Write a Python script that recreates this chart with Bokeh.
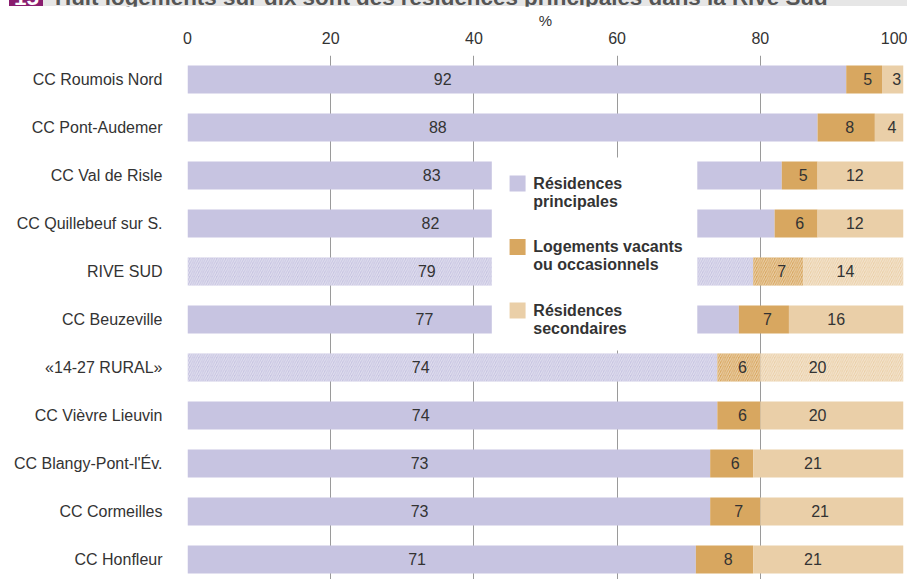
from bokeh.plotting import figure
from bokeh.layouts import column
from bokeh.models import Range1d, FixedTicker, ColumnDataSource, Div
from bokeh.core.properties import value
from bokeh.embed import file_html
from bokeh.resources import INLINE

# Territoires, du haut vers le bas
territoires = [
    "CC Roumois Nord", "CC Pont-Audemer", "CC Val de Risle", "CC Quillebeuf sur S.",
    "RIVE SUD", "CC Beuzeville", "«14-27 RURAL»", "CC Vièvre Lieuvin",
    "CC Blangy-Pont-l'Év.", "CC Cormeilles", "CC Honfleur",
]
# Répartition des logements (%)
principales = [92, 88, 83, 82, 79, 77, 74, 74, 73, 73, 71]
vacants = [5, 8, 5, 6, 7, 7, 6, 6, 6, 7, 8]
secondaires = [3, 4, 12, 12, 14, 16, 20, 20, 21, 21, 21]
# Ensembles de référence (barres hachurées)
ensembles = ["RIVE SUD", "«14-27 RURAL»"]
# Légende (sur deux lignes)
legende = [
    ["Résidences", "principales"],
    ["Logements vacants", "ou occasionnels"],
    ["Résidences", "secondaires"],
]
graduations = [0, 20, 40, 60, 80, 100]
titre = "Huit logements sur dix sont des résidences principales dans la Rive Sud"
numero = "15"

COULEURS = ["#c7c4e1", "#d8a760", "#eacfa8"]
TEXTE = "#333333"
POLICE = "Liberation Sans"
LARGEUR = 907
VIOLET = "#8a1d6f"
GRIS = "#e6e6e6"

# ---------- Bandeau de titre ----------
# Le bandeau fait 24 px, mais le graphique le recouvre sous ses 6 premiers pixels.
H_DIV = 24
H_VISIBLE = 6
span_style = ("position:absolute;top:-13px;line-height:22px;font-weight:bold;"
              f"font-size:22.4px;font-family:'{POLICE}';white-space:nowrap;")
bandeau_html = (
    f'<div style="position:relative;width:{LARGEUR}px;height:{H_DIV}px;'
    f'overflow:hidden;background:white;">'
    f'<div style="position:absolute;left:9px;top:0;width:34px;height:{H_VISIBLE}px;'
    f'background:{VIOLET};"></div>'
    f'<div style="position:absolute;left:43px;top:0;width:{LARGEUR - 43}px;'
    f'height:{H_VISIBLE}px;background:{GRIS};"></div>'
    f'<span style="{span_style}left:14px;color:white;">{numero}</span>'
    f'<span style="{span_style}left:55px;color:#555555;">{titre}</span>'
    f'</div>'
)
entete = Div(text=bandeau_html, width=LARGEUR, height=H_DIV, margin=0,
             styles={"overflow": "hidden"})

# ---------- Graphique ----------
n = len(territoires)
rangs = list(range(n))
fin_p = principales
fin_v = [a + b for a, b in zip(principales, vacants)]
fin_s = [a + b for a, b in zip(fin_v, secondaires)]
hachures = ["/" if t in ensembles else " " for t in territoires]

src = ColumnDataSource(dict(
    y=rangs,
    zero=[0] * n,
    fin_p=fin_p,
    fin_v=fin_v,
    fin_s=fin_s,
    hachure=hachures,
    x_lp=[20 + 0.17 * v for v in principales],
    x_lv=[a + b / 2 + 0.5 for a, b in zip(fin_p, vacants)],
    x_ls=[a + 0.35 * b + 1 for a, b in zip(fin_v, secondaires)],
    t_p=[str(v) for v in principales],
    t_v=[str(v) for v in vacants],
    t_s=[str(v) for v in secondaires],
))

p = figure(
    title=None,
    width=LARGEUR, height=579 - H_VISIBLE,
    x_range=Range1d(0, 100), y_range=Range1d(10.417, -0.5),
    x_axis_location="above",
    output_backend="svg", toolbar_location=None,
    min_border_left=187, min_border_right=4, min_border_top=55 - H_VISIBLE,
    min_border_bottom=0, margin=(H_VISIBLE - H_DIV, 0, 0, 0),
)
p.background_fill_color = "white"
p.border_fill_color = "white"
p.outline_line_color = None

# Axe des pourcentages (en haut)
xa = p.xaxis[0]
xa.ticker = FixedTicker(ticks=graduations)
xa.axis_label = "%"
xa.axis_label_text_font = POLICE
xa.axis_label_text_font_size = "15px"
xa.axis_label_text_font_style = "normal"
xa.axis_label_text_color = TEXTE
xa.axis_label_standoff = 0
xa.major_label_text_font = POLICE
xa.major_label_text_font_size = "16px"
xa.major_label_text_color = TEXTE
xa.major_label_standoff = 12
xa.major_tick_out = 0
xa.major_tick_in = 0
xa.minor_tick_out = 0
xa.minor_tick_in = 0
xa.axis_line_color = None

# Axe des territoires
ya = p.yaxis[0]
ya.ticker = FixedTicker(ticks=rangs)
ya.major_label_overrides = {i: t for i, t in enumerate(territoires)}
ya.major_label_text_font = POLICE
ya.major_label_text_font_size = "16px"
ya.major_label_text_color = TEXTE
ya.major_label_standoff = 25
ya.major_tick_out = 0
ya.major_tick_in = 0
ya.minor_tick_out = 0
ya.minor_tick_in = 0
ya.axis_line_color = None

p.xgrid.ticker = FixedTicker(ticks=graduations)
p.xgrid.grid_line_color = "#9a9a9a"
p.xgrid.grid_line_width = 1
p.ygrid.grid_line_color = None

# Barres empilées
H = 0.58
hatch_kw = dict(hatch_pattern="hachure", hatch_color="white", hatch_alpha=0.5,
                hatch_scale=4.5, hatch_weight=1)
p.hbar(y="y", left="zero", right="fin_p", height=H, source=src,
       fill_color=COULEURS[0], line_color=None, **hatch_kw)
p.hbar(y="y", left="fin_p", right="fin_v", height=H, source=src,
       fill_color=COULEURS[1], line_color=None, **hatch_kw)
p.hbar(y="y", left="fin_v", right="fin_s", height=H, source=src,
       fill_color=COULEURS[2], line_color=None, **hatch_kw)

# Valeurs
txt_kw = dict(text_font=value(POLICE), text_font_size="16px", text_color=TEXTE,
              text_align="center", text_baseline="middle", source=src)
p.text(x="x_lp", y="y", text="t_p", **txt_kw)
p.text(x="x_lv", y="y", text="t_v", **txt_kw)
p.text(x="x_ls", y="y", text="t_s", **txt_kw)

# Légende dans un cadre blanc
p.quad(left=[42.5], right=[71.2], top=[1.625], bottom=[5.646],
       fill_color="white", line_color=None)
pas = 63.5 / 48
y0 = (183 - 55) / 48 - 0.5
ys = [y0 + k * pas for k in range(len(legende))]
p.rect(x=[46.1] * len(legende), y=ys, width=16, height=16,
       width_units="screen", height_units="screen",
       fill_color=COULEURS, line_color=None)
lx, ly, lt = [], [], []
for k, lignes in enumerate(legende):
    for j, ligne in enumerate(lignes):
        lx.append(48.3)
        ly.append(ys[k] + j * 18 / 48)
        lt.append(ligne)
p.text(x=lx, y=ly, text=lt, text_font=value(POLICE), text_font_size="16px",
       text_font_style="bold", text_color=TEXTE, text_align="left",
       text_baseline="middle")

page = column(entete, p, spacing=0, margin=0)
open("out.html", "w").write(file_html(page, INLINE))
